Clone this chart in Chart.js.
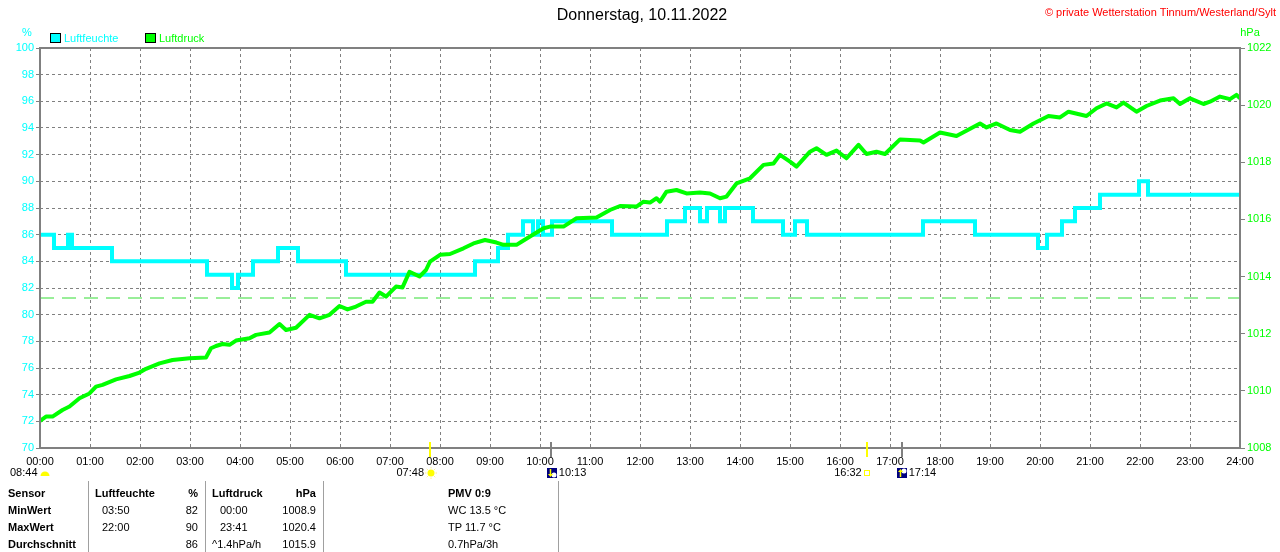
<!DOCTYPE html>
<html><head><meta charset="utf-8">
<script src="https://cdn.jsdelivr.net/npm/chart.js@4.4.0/dist/chart.umd.min.js"></script>
<style>
html,body{margin:0;padding:0;background:#fff;width:1280px;height:552px;overflow:hidden;font-family:"Liberation Sans",Arial,sans-serif;}
#wrap{position:relative;width:1280px;height:552px;}
canvas{position:absolute;left:0;top:0;}
.t{position:absolute;font-size:11px;line-height:14px;color:#000;white-space:nowrap;}
.b{font-weight:bold;}
.sep{position:absolute;top:481px;height:71px;width:1px;background:#a0a0a0;}
</style>
</head><body><div id="wrap"><canvas id="c" width="1280" height="552"></canvas></div>
<script>
// ---- data ----
const titleText = "Donnerstag, 10.11.2022";
const copyrightText = "\u00A9 private Wetterstation Tinnum/Westerland/Sylt";
const seriesNames = ["Luftfeuchte", "Luftdruck"];
const hourTicks = [0,1,2,3,4,5,6,7,8,9,10,11,12,13,14,15,16,17,18,19,20,21,22,23,24];
const humidityTicks = [70,72,74,76,78,80,82,84,86,88,90,92,94,96,98,100];
const pressureTicks = [1008,1010,1012,1014,1016,1018,1020,1022];
const humTimes = [0,0.28,0.56,0.64,1.44,3.34,3.84,3.96,4.26,4.76,5.16,6.12,8.7,9.16,9.36,9.66,9.86,9.96,10.06,10.24,11.44,12.54,12.9,13.2,13.34,13.6,13.7,14.26,14.86,15.1,15.34,17.66,18.7,19.96,20.14,20.44,20.7,21.2,21.98,22.16,24];
const humValues = [86,85,86,85,84,83,82,83,84,85,84,83,84,85,86,87,86,87,86,87,86,87,88,87,88,87,88,87,86,87,86,87,86,85,86,87,88,89,90,89,89];
const pressTimes = [0,0.12,0.25,0.45,0.59,0.79,0.99,1.12,1.25,1.52,
 1.79,1.99,2.12,2.39,2.65,2.99,3.32,3.42,3.52,3.65,
 3.79,3.92,4.19,4.32,4.59,4.79,4.92,5.12,5.39,5.59,
 5.79,5.99,6.15,6.32,6.52,6.65,6.79,6.92,7.12,7.25,
 7.39,7.59,7.72,7.8,8.0,8.2,8.47,8.67,8.9,9.13,
 9.27,9.53,9.63,9.8,10.07,10.2,10.47,10.73,11.13,11.4,
 11.6,11.93,12.07,12.2,12.33,12.4,12.53,12.73,12.93,13.2,
 13.4,13.6,13.73,13.93,14.2,14.47,14.67,14.8,15.0,15.13,
 15.4,15.53,15.73,15.93,16.13,16.37,16.53,16.73,16.9,17.2,
 17.6,17.67,18.0,18.33,18.8,18.93,19.13,19.4,19.6,19.87,
 20.17,20.4,20.57,20.93,21.13,21.33,21.53,21.67,21.93,22.13,
 22.4,22.67,22.8,23.0,23.27,23.4,23.6,23.8,23.93,24.0];
const pressValues = [1008.95,1009.1,1009.1,1009.33,1009.45,1009.74,1009.91,1010.15,1010.21,1010.4,
 1010.52,1010.64,1010.77,1010.96,1011.08,1011.14,1011.17,1011.49,1011.57,1011.64,
 1011.61,1011.76,1011.84,1011.96,1012.04,1012.34,1012.13,1012.21,1012.66,1012.54,
 1012.66,1012.97,1012.85,1012.95,1013.12,1013.12,1013.44,1013.3,1013.65,1013.62,
 1014.17,1014.0,1014.23,1014.52,1014.76,1014.79,1014.99,1015.16,1015.28,1015.19,
 1015.11,1015.11,1015.22,1015.4,1015.69,1015.75,1015.75,1016.04,1016.07,1016.33,
 1016.47,1016.45,1016.62,1016.59,1016.74,1016.62,1016.97,1017.03,1016.91,1016.94,
 1016.91,1016.74,1016.8,1017.26,1017.44,1017.91,1017.96,1018.26,1018.02,1017.85,
 1018.37,1018.49,1018.26,1018.41,1018.14,1018.61,1018.29,1018.37,1018.29,1018.8,
 1018.76,1018.69,1019.04,1018.92,1019.36,1019.22,1019.36,1019.13,1019.07,1019.36,
 1019.62,1019.57,1019.77,1019.62,1019.89,1020.06,1019.92,1020.09,1019.77,1019.97,
 1020.16,1020.24,1020.04,1020.24,1020.04,1020.12,1020.3,1020.21,1020.36,1020.24];
const standardPressure = 1013.25;
const sunTimes = {sunrise:"07:48", sunset:"16:32", moonset:"10:13", moonrise:"17:14", sunshine:"08:44"};
const tableRows = [
  ["Sensor","Luftfeuchte","%","Luftdruck","hPa","PMV 0:9"],
  ["MinWert","03:50","82","00:00","1008.9","WC 13.5 \u00B0C"],
  ["MaxWert","22:00","90","23:41","1020.4","TP 11.7 \u00B0C"],
  ["Durchschnitt","","86","^1.4hPa/h","1015.9","0.7hPa/3h"]
];

// ---- colours ----
const CYAN = "#00FFFF", GREEN = "#00FF00", GRID = "#808080";
const FONT = "'Liberation Sans', Arial, sans-serif";

function hm(s){const p=s.split(":");return +p[0]+ +p[1]/60;}
function pad(n){return (n<10?"0":"")+n;}

const overlay = {
  id:"overlay",
  afterDraw(chart){
    const ctx = chart.ctx, a = chart.chartArea, xs = chart.scales.x;
    ctx.save();
    // frame
    ctx.strokeStyle = GRID; ctx.lineWidth = 2; ctx.setLineDash([]);
    ctx.strokeRect(a.left, a.top, a.right-a.left, a.bottom-a.top);
    // title
    ctx.fillStyle = "#000"; ctx.font = "16px "+FONT; ctx.textAlign="center"; ctx.textBaseline="middle";
    ctx.fillText(titleText, 642, 16);
    ctx.fillStyle = "#FF0000"; ctx.font = "11px "+FONT; ctx.textAlign="right";
    ctx.fillText(copyrightText, 1276, 13);
    // unit labels
    ctx.font = "11px "+FONT; ctx.textAlign="center";
    ctx.fillStyle = CYAN; ctx.fillText("%", 27, 33);
    ctx.fillStyle = GREEN; ctx.fillText("hPa", 1250, 33);
    // legend
    const leg = [[50, CYAN, seriesNames[0]],[145, GREEN, seriesNames[1]]];
    ctx.textAlign="left";
    leg.forEach(([x,c,t])=>{
      ctx.fillStyle=c; ctx.fillRect(x+0.5,33.5,10,9);
      ctx.strokeStyle="#000"; ctx.lineWidth=1; ctx.strokeRect(x+0.5,33.5,10,9);
      ctx.fillStyle=c; ctx.fillText(t, x+14, 38.5);
    });
    // astro markers
    const px = t => xs.getPixelForValue(hm(t));
    ctx.lineWidth = 2;
    [["sunrise","#FFFF00"],["sunset","#FFFF00"],["moonset",GRID],["moonrise",GRID]].forEach(([k,c])=>{
      const x = Math.round(px(sunTimes[k]));
      ctx.strokeStyle=c; ctx.beginPath(); ctx.moveTo(x,442); ctx.lineTo(x,457); ctx.stroke();
    });
    ctx.font = "11px "+FONT; ctx.fillStyle="#000"; ctx.textBaseline="middle";
    // sunrise
    let x = px(sunTimes.sunrise);
    ctx.textAlign="right"; ctx.fillText(sunTimes.sunrise, x-6, 473);
    ctx.fillStyle="#FFFF00"; ctx.beginPath(); ctx.arc(x+1,473,3.5,0,Math.PI*2); ctx.fill();
    ctx.strokeStyle="#FFEE88"; ctx.lineWidth=1;
    for(let i=0;i<8;i++){const an=i*Math.PI/4;ctx.beginPath();ctx.moveTo(x+1+Math.cos(an)*4.5,473+Math.sin(an)*4.5);ctx.lineTo(x+1+Math.cos(an)*6,473+Math.sin(an)*6);ctx.stroke();}
    // sunset
    x = px(sunTimes.sunset);
    ctx.fillStyle="#000"; ctx.textAlign="right"; ctx.fillText(sunTimes.sunset, x-5, 473);
    ctx.strokeStyle="#FFFF00"; ctx.lineWidth=1; ctx.strokeRect(Math.round(x)-2.5,470.5,5,5);
    // moon icons
    function moon(mx, up){
      ctx.fillStyle="#000080"; ctx.fillRect(mx,468,10,10);
      ctx.fillStyle="#FFFFFF"; ctx.beginPath(); ctx.arc(mx+7,up?471:475,2.5,0,Math.PI*2); ctx.fill();
      ctx.strokeStyle="#FFFF00"; ctx.lineWidth=1.5; ctx.beginPath();
      ctx.moveTo(mx+3.5,up?477:469); ctx.lineTo(mx+3.5,up?471:475); ctx.stroke();
      ctx.fillStyle="#FFFF00"; ctx.beginPath();
      if(up){ctx.moveTo(mx+1,472);ctx.lineTo(mx+6,472);ctx.lineTo(mx+3.5,469);}else{ctx.moveTo(mx+1,474);ctx.lineTo(mx+6,474);ctx.lineTo(mx+3.5,477);}
      ctx.fill();
    }
    x = px(sunTimes.moonset); moon(Math.round(x)-4, false);
    ctx.fillStyle="#000"; ctx.textAlign="left"; ctx.fillText(sunTimes.moonset, x+8, 473);
    x = px(sunTimes.moonrise); moon(Math.round(x)-5, true);
    ctx.fillStyle="#000"; ctx.textAlign="left"; ctx.fillText(sunTimes.moonrise, x+7, 473);
    // sunshine duration
    ctx.fillStyle="#000"; ctx.textAlign="left"; ctx.fillText(sunTimes.sunshine, 10, 473);
    ctx.fillStyle="#FFFF00"; ctx.beginPath(); ctx.arc(45,476,4.5,Math.PI,0); ctx.fill();
    ctx.restore();
  }
};

const ctx = document.getElementById("c").getContext("2d");
new Chart(ctx, {
  type:"line",
  data:{datasets:[
    {label:seriesNames[1], yAxisID:"y2", data:pressTimes.map((t,i)=>({x:t,y:pressValues[i]})),
     borderColor:GREEN, borderWidth:4, pointRadius:0, tension:0, borderJoinStyle:"round", order:0},
    {label:seriesNames[0], yAxisID:"y", data:humTimes.map((t,i)=>({x:t,y:humValues[i]})),
     borderColor:CYAN, borderWidth:4, pointRadius:0, stepped:"before", borderCapStyle:"butt", order:1},
    {label:"Normaldruck", yAxisID:"y2", data:[{x:hourTicks[0],y:standardPressure},{x:hourTicks[hourTicks.length-1],y:standardPressure}],
     borderColor:"#33DD33", borderWidth:1, borderDash:[14,8], pointRadius:0, order:2}
  ]},
  options:{
    responsive:false, animation:false, devicePixelRatio:1,
    layout:{padding:{top:48,bottom:84,left:0,right:0}},
    plugins:{legend:{display:false}, tooltip:{enabled:false}},
    scales:{
      x:{type:"linear", min:0, max:24,
        afterBuildTicks:s=>{s.ticks=hourTicks.map(v=>({value:v}));},
        afterFit:s=>{s.height=20;},
        ticks:{autoSkip:false, maxRotation:0, color:"#000", font:{family:FONT,size:11}, padding:7,
          callback:v=>pad(v)+":00"},
        grid:{color:GRID, lineWidth:1, drawTicks:false}, border:{display:false, dash:[3,3]}},
      y:{position:"left", min:70, max:100,
        afterBuildTicks:s=>{s.ticks=humidityTicks.map(v=>({value:v}));},
        afterFit:s=>{s.width=40;},
        ticks:{color:CYAN, font:{family:FONT,size:11}, padding:2, callback:v=>String(v)},
        grid:{color:GRID, lineWidth:1, drawTicks:true, tickLength:4}, border:{display:false, dash:[3,3]}},
      y2:{position:"right", min:1008, max:1022,
        afterBuildTicks:s=>{s.ticks=pressureTicks.map(v=>({value:v}));},
        afterFit:s=>{s.width=40;},
        ticks:{color:GREEN, font:{family:FONT,size:11}, padding:2, callback:v=>String(v)},
        grid:{color:GRID, lineWidth:1, drawOnChartArea:false, drawTicks:true, tickLength:5}, border:{display:false}}
    }
  },
  plugins:[overlay]
});

// ---- table ----
const wrap = document.getElementById("wrap");
function txt(s, x, y, cls, right){
  const d=document.createElement("div"); d.className="t "+(cls||"");
  d.textContent=s;
  if(right){d.style.right=(1280-x)+"px";} else {d.style.left=x+"px";}
  d.style.top=(y-7)+"px"; wrap.appendChild(d);
}
[88,205,323,558].forEach(x=>{const d=document.createElement("div");d.className="sep";d.style.left=x+"px";wrap.appendChild(d);});
const rowY=[493,510,527,544];
tableRows.forEach((r,i)=>{
  const hb = i===0 ? "b" : "";
  txt(r[0], 8, rowY[i], "b");
  txt(r[1], i===0?95:102, rowY[i], hb);
  txt(r[2], 198, rowY[i], hb, true);
  txt(r[3], (i===0||i===3)?212:220, rowY[i], hb);
  txt(r[4], 316, rowY[i], hb, true);
  txt(r[5], 448, rowY[i], hb);
});
</script></body></html>
